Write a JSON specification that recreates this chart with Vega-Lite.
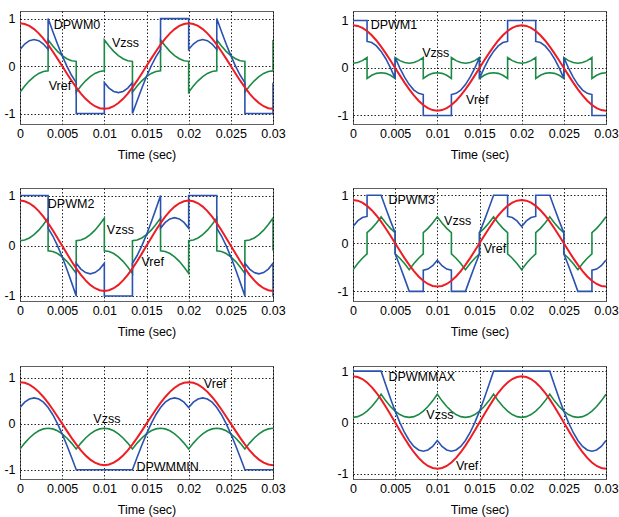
{
"$schema": "https://vega.github.io/schema/vega-lite/v6.json",
"background": "white",
"padding": {"left": 3, "top": 10, "right": 0, "bottom": 0},
"spacing": 25,
"config": {
  "view": {"stroke": "#606060", "strokeWidth": 1},
  "axis": {"grid": true, "gridColor": "#000", "gridDash": [1.5, 2], "gridOpacity": 0.85, "gridWidth": 1, "domain": false, "ticks": false,
    "labelFont": "Liberation Sans", "labelFontSize": 12.5, "labelColor": "#000",
    "titleFont": "Liberation Sans", "titleFontSize": 12.5, "titleFontWeight": "normal", "titleColor": "#000"},
  "axisX": {"labelPadding": 3, "titlePadding": 9, "labelFlush": false, "labelOverlap": false},
  "axisY": {"labelPadding": 5, "labelExpr": "replace(datum.label, '\u2212', '-')"},
  "text": {"font": "Liberation Sans", "fontSize": 12.5, "color": "#000", "align": "left", "baseline": "middle"}
},
"datasets": {
"ref": [
{"t":0,"value":0.9},{"t":0.000556,"value":0.8863},{"t":0.001111,"value":0.8457},{"t":0.001667,"value":0.7794},{"t":0.002222,"value":0.6894},{"t":0.002778,"value":0.5785},{"t":0.003333,"value":0.45},{"t":0.003889,"value":0.3078},{"t":0.004444,"value":0.1563},{"t":0.005,"value":0},{"t":0.005556,"value":-0.1563},{"t":0.006111,"value":-0.3078},{"t":0.006667,"value":-0.45},{"t":0.007222,"value":-0.5785},{"t":0.007778,"value":-0.6894},{"t":0.008333,"value":-0.7794},{"t":0.008889,"value":-0.8457},{"t":0.009444,"value":-0.8863},{"t":0.01,"value":-0.9},{"t":0.010556,"value":-0.8863},{"t":0.011111,"value":-0.8457},{"t":0.011667,"value":-0.7794},{"t":0.012222,"value":-0.6894},{"t":0.012778,"value":-0.5785},{"t":0.013333,"value":-0.45},{"t":0.013889,"value":-0.3078},{"t":0.014444,"value":-0.1563},{"t":0.015,"value":0},{"t":0.015556,"value":0.1563},{"t":0.016111,"value":0.3078},{"t":0.016667,"value":0.45},{"t":0.017222,"value":0.5785},{"t":0.017778,"value":0.6894},{"t":0.018333,"value":0.7794},{"t":0.018889,"value":0.8457},{"t":0.019444,"value":0.8863},{"t":0.02,"value":0.9},{"t":0.020556,"value":0.8863},{"t":0.021111,"value":0.8457},{"t":0.021667,"value":0.7794},{"t":0.022222,"value":0.6894},{"t":0.022778,"value":0.5785},{"t":0.023333,"value":0.45},{"t":0.023889,"value":0.3078},{"t":0.024444,"value":0.1563},{"t":0.025,"value":0},{"t":0.025556,"value":-0.1563},{"t":0.026111,"value":-0.3078},{"t":0.026667,"value":-0.45},{"t":0.027222,"value":-0.5785},{"t":0.027778,"value":-0.6894},{"t":0.028333,"value":-0.7794},{"t":0.028889,"value":-0.8457},{"t":0.029444,"value":-0.8863},{"t":0.03,"value":-0.9}
],
"lab": [
{"p":0,"t":0.0040,"value":0.86,"s":"DPWM0"},{"p":0,"t":0.0109,"value":0.49,"s":"Vzss"},{"p":0,"t":0.0034,"value":-0.41,"s":"Vref"},
{"p":1,"t":0.0021,"value":0.91,"s":"DPWM1"},{"p":1,"t":0.0082,"value":0.32,"s":"Vzss"},{"p":1,"t":0.0134,"value":-0.67,"s":"Vref"},
{"p":2,"t":0.0033,"value":0.84,"s":"DPWM2"},{"p":2,"t":0.0103,"value":0.31,"s":"Vzss"},{"p":2,"t":0.0144,"value":-0.32,"s":"Vref"},
{"p":3,"t":0.0042,"value":0.91,"s":"DPWM3"},{"p":3,"t":0.0108,"value":0.47,"s":"Vzss"},{"p":3,"t":0.0155,"value":-0.11,"s":"Vref"},
{"p":4,"t":0.0218,"value":0.85,"s":"Vref"},{"p":4,"t":0.0087,"value":0.11,"s":"Vzss"},{"p":4,"t":0.0138,"value":-0.94,"s":"DPWMMIN"},
{"p":5,"t":0.0042,"value":0.89,"s":"DPWMMAX"},{"p":5,"t":0.0087,"value":0.15,"s":"Vzss"},{"p":5,"t":0.0122,"value":-0.85,"s":"Vref"}
],
"pw": [
{"p":0,"t":0,"z":-0.55,"y":0.35},
{"p":0,"t":0.000556,"z":-0.4215,"y":0.4648},
{"p":0,"t":0.001111,"z":-0.3106,"y":0.5351},
{"p":0,"t":0.001667,"z":-0.2206,"y":0.5588},
{"p":0,"t":0.002222,"z":-0.1543,"y":0.5351},
{"p":0,"t":0.002778,"z":-0.1137,"y":0.4648},
{"p":0,"t":0.003333,"z":-0.1,"y":0.35},
{"p":0,"t":0.003333,"z":0.55,"y":1},
{"p":0,"t":0.003889,"z":0.4215,"y":0.7293},
{"p":0,"t":0.004444,"z":0.3106,"y":0.4669},
{"p":0,"t":0.005,"z":0.2206,"y":0.2206},
{"p":0,"t":0.005556,"z":0.1543,"y":-0.002},
{"p":0,"t":0.006111,"z":0.1137,"y":-0.1941},
{"p":0,"t":0.006667,"z":0.1,"y":-0.35},
{"p":0,"t":0.006667,"z":-0.55,"y":-1},
{"p":0,"t":0.007222,"z":-0.4215,"y":-1},
{"p":0,"t":0.007778,"z":-0.3106,"y":-1},
{"p":0,"t":0.008333,"z":-0.2206,"y":-1},
{"p":0,"t":0.008889,"z":-0.1543,"y":-1},
{"p":0,"t":0.009444,"z":-0.1137,"y":-1},
{"p":0,"t":0.01,"z":-0.1,"y":-1},
{"p":0,"t":0.01,"z":0.55,"y":-0.35},
{"p":0,"t":0.010556,"z":0.4215,"y":-0.4648},
{"p":0,"t":0.011111,"z":0.3106,"y":-0.5351},
{"p":0,"t":0.011667,"z":0.2206,"y":-0.5588},
{"p":0,"t":0.012222,"z":0.1543,"y":-0.5351},
{"p":0,"t":0.012778,"z":0.1137,"y":-0.4648},
{"p":0,"t":0.013333,"z":0.1,"y":-0.35},
{"p":0,"t":0.013333,"z":-0.55,"y":-1},
{"p":0,"t":0.013889,"z":-0.4215,"y":-0.7293},
{"p":0,"t":0.014444,"z":-0.3106,"y":-0.4669},
{"p":0,"t":0.015,"z":-0.2206,"y":-0.2206},
{"p":0,"t":0.015556,"z":-0.1543,"y":0.002},
{"p":0,"t":0.016111,"z":-0.1137,"y":0.1941},
{"p":0,"t":0.016667,"z":-0.1,"y":0.35},
{"p":0,"t":0.016667,"z":0.55,"y":1},
{"p":0,"t":0.017222,"z":0.4215,"y":1},
{"p":0,"t":0.017778,"z":0.3106,"y":1},
{"p":0,"t":0.018333,"z":0.2206,"y":1},
{"p":0,"t":0.018889,"z":0.1543,"y":1},
{"p":0,"t":0.019444,"z":0.1137,"y":1},
{"p":0,"t":0.02,"z":0.1,"y":1},
{"p":0,"t":0.02,"z":-0.55,"y":0.35},
{"p":0,"t":0.020556,"z":-0.4215,"y":0.4648},
{"p":0,"t":0.021111,"z":-0.3106,"y":0.5351},
{"p":0,"t":0.021667,"z":-0.2206,"y":0.5588},
{"p":0,"t":0.022222,"z":-0.1543,"y":0.5351},
{"p":0,"t":0.022778,"z":-0.1137,"y":0.4648},
{"p":0,"t":0.023333,"z":-0.1,"y":0.35},
{"p":0,"t":0.023333,"z":0.55,"y":1},
{"p":0,"t":0.023889,"z":0.4215,"y":0.7293},
{"p":0,"t":0.024444,"z":0.3106,"y":0.4669},
{"p":0,"t":0.025,"z":0.2206,"y":0.2206},
{"p":0,"t":0.025556,"z":0.1543,"y":-0.002},
{"p":0,"t":0.026111,"z":0.1137,"y":-0.1941},
{"p":0,"t":0.026667,"z":0.1,"y":-0.35},
{"p":0,"t":0.026667,"z":-0.55,"y":-1},
{"p":0,"t":0.027222,"z":-0.4215,"y":-1},
{"p":0,"t":0.027778,"z":-0.3106,"y":-1},
{"p":0,"t":0.028333,"z":-0.2206,"y":-1},
{"p":0,"t":0.028889,"z":-0.1543,"y":-1},
{"p":0,"t":0.029444,"z":-0.1137,"y":-1},
{"p":0,"t":0.03,"z":-0.1,"y":-1},
{"p":0,"t":0.03,"z":0.55,"y":-0.35},
{"p":1,"t":0,"z":0.1,"y":1},
{"p":1,"t":0.000556,"z":0.1137,"y":1},
{"p":1,"t":0.001111,"z":0.1543,"y":1},
{"p":1,"t":0.001667,"z":0.2206,"y":1},
{"p":1,"t":0.001667,"z":-0.2206,"y":0.5588},
{"p":1,"t":0.002222,"z":-0.1543,"y":0.5351},
{"p":1,"t":0.002778,"z":-0.1137,"y":0.4648},
{"p":1,"t":0.003333,"z":-0.1,"y":0.35},
{"p":1,"t":0.003889,"z":-0.1137,"y":0.1941},
{"p":1,"t":0.004444,"z":-0.1543,"y":0.002},
{"p":1,"t":0.005,"z":-0.2206,"y":-0.2206},
{"p":1,"t":0.005,"z":0.2206,"y":0.2206},
{"p":1,"t":0.005556,"z":0.1543,"y":-0.002},
{"p":1,"t":0.006111,"z":0.1137,"y":-0.1941},
{"p":1,"t":0.006667,"z":0.1,"y":-0.35},
{"p":1,"t":0.007222,"z":0.1137,"y":-0.4648},
{"p":1,"t":0.007778,"z":0.1543,"y":-0.5351},
{"p":1,"t":0.008333,"z":0.2206,"y":-0.5588},
{"p":1,"t":0.008333,"z":-0.2206,"y":-1},
{"p":1,"t":0.008889,"z":-0.1543,"y":-1},
{"p":1,"t":0.009444,"z":-0.1137,"y":-1},
{"p":1,"t":0.01,"z":-0.1,"y":-1},
{"p":1,"t":0.010556,"z":-0.1137,"y":-1},
{"p":1,"t":0.011111,"z":-0.1543,"y":-1},
{"p":1,"t":0.011667,"z":-0.2206,"y":-1},
{"p":1,"t":0.011667,"z":0.2206,"y":-0.5588},
{"p":1,"t":0.012222,"z":0.1543,"y":-0.5351},
{"p":1,"t":0.012778,"z":0.1137,"y":-0.4648},
{"p":1,"t":0.013333,"z":0.1,"y":-0.35},
{"p":1,"t":0.013889,"z":0.1137,"y":-0.1941},
{"p":1,"t":0.014444,"z":0.1543,"y":-0.002},
{"p":1,"t":0.015,"z":0.2206,"y":0.2206},
{"p":1,"t":0.015,"z":-0.2206,"y":-0.2206},
{"p":1,"t":0.015556,"z":-0.1543,"y":0.002},
{"p":1,"t":0.016111,"z":-0.1137,"y":0.1941},
{"p":1,"t":0.016667,"z":-0.1,"y":0.35},
{"p":1,"t":0.017222,"z":-0.1137,"y":0.4648},
{"p":1,"t":0.017778,"z":-0.1543,"y":0.5351},
{"p":1,"t":0.018333,"z":-0.2206,"y":0.5588},
{"p":1,"t":0.018333,"z":0.2206,"y":1},
{"p":1,"t":0.018889,"z":0.1543,"y":1},
{"p":1,"t":0.019444,"z":0.1137,"y":1},
{"p":1,"t":0.02,"z":0.1,"y":1},
{"p":1,"t":0.020556,"z":0.1137,"y":1},
{"p":1,"t":0.021111,"z":0.1543,"y":1},
{"p":1,"t":0.021667,"z":0.2206,"y":1},
{"p":1,"t":0.021667,"z":-0.2206,"y":0.5588},
{"p":1,"t":0.022222,"z":-0.1543,"y":0.5351},
{"p":1,"t":0.022778,"z":-0.1137,"y":0.4648},
{"p":1,"t":0.023333,"z":-0.1,"y":0.35},
{"p":1,"t":0.023889,"z":-0.1137,"y":0.1941},
{"p":1,"t":0.024444,"z":-0.1543,"y":0.002},
{"p":1,"t":0.025,"z":-0.2206,"y":-0.2206},
{"p":1,"t":0.025,"z":0.2206,"y":0.2206},
{"p":1,"t":0.025556,"z":0.1543,"y":-0.002},
{"p":1,"t":0.026111,"z":0.1137,"y":-0.1941},
{"p":1,"t":0.026667,"z":0.1,"y":-0.35},
{"p":1,"t":0.027222,"z":0.1137,"y":-0.4648},
{"p":1,"t":0.027778,"z":0.1543,"y":-0.5351},
{"p":1,"t":0.028333,"z":0.2206,"y":-0.5588},
{"p":1,"t":0.028333,"z":-0.2206,"y":-1},
{"p":1,"t":0.028889,"z":-0.1543,"y":-1},
{"p":1,"t":0.029444,"z":-0.1137,"y":-1},
{"p":1,"t":0.03,"z":-0.1,"y":-1},
{"p":2,"t":0,"z":0.1,"y":1},
{"p":2,"t":0.000556,"z":0.1137,"y":1},
{"p":2,"t":0.001111,"z":0.1543,"y":1},
{"p":2,"t":0.001667,"z":0.2206,"y":1},
{"p":2,"t":0.002222,"z":0.3106,"y":1},
{"p":2,"t":0.002778,"z":0.4215,"y":1},
{"p":2,"t":0.003333,"z":0.55,"y":1},
{"p":2,"t":0.003333,"z":-0.1,"y":0.35},
{"p":2,"t":0.003889,"z":-0.1137,"y":0.1941},
{"p":2,"t":0.004444,"z":-0.1543,"y":0.002},
{"p":2,"t":0.005,"z":-0.2206,"y":-0.2206},
{"p":2,"t":0.005556,"z":-0.3106,"y":-0.4669},
{"p":2,"t":0.006111,"z":-0.4215,"y":-0.7293},
{"p":2,"t":0.006667,"z":-0.55,"y":-1},
{"p":2,"t":0.006667,"z":0.1,"y":-0.35},
{"p":2,"t":0.007222,"z":0.1137,"y":-0.4648},
{"p":2,"t":0.007778,"z":0.1543,"y":-0.5351},
{"p":2,"t":0.008333,"z":0.2206,"y":-0.5588},
{"p":2,"t":0.008889,"z":0.3106,"y":-0.5351},
{"p":2,"t":0.009444,"z":0.4215,"y":-0.4648},
{"p":2,"t":0.01,"z":0.55,"y":-0.35},
{"p":2,"t":0.01,"z":-0.1,"y":-1},
{"p":2,"t":0.010556,"z":-0.1137,"y":-1},
{"p":2,"t":0.011111,"z":-0.1543,"y":-1},
{"p":2,"t":0.011667,"z":-0.2206,"y":-1},
{"p":2,"t":0.012222,"z":-0.3106,"y":-1},
{"p":2,"t":0.012778,"z":-0.4215,"y":-1},
{"p":2,"t":0.013333,"z":-0.55,"y":-1},
{"p":2,"t":0.013333,"z":0.1,"y":-0.35},
{"p":2,"t":0.013889,"z":0.1137,"y":-0.1941},
{"p":2,"t":0.014444,"z":0.1543,"y":-0.002},
{"p":2,"t":0.015,"z":0.2206,"y":0.2206},
{"p":2,"t":0.015556,"z":0.3106,"y":0.4669},
{"p":2,"t":0.016111,"z":0.4215,"y":0.7293},
{"p":2,"t":0.016667,"z":0.55,"y":1},
{"p":2,"t":0.016667,"z":-0.1,"y":0.35},
{"p":2,"t":0.017222,"z":-0.1137,"y":0.4648},
{"p":2,"t":0.017778,"z":-0.1543,"y":0.5351},
{"p":2,"t":0.018333,"z":-0.2206,"y":0.5588},
{"p":2,"t":0.018889,"z":-0.3106,"y":0.5351},
{"p":2,"t":0.019444,"z":-0.4215,"y":0.4648},
{"p":2,"t":0.02,"z":-0.55,"y":0.35},
{"p":2,"t":0.02,"z":0.1,"y":1},
{"p":2,"t":0.020556,"z":0.1137,"y":1},
{"p":2,"t":0.021111,"z":0.1543,"y":1},
{"p":2,"t":0.021667,"z":0.2206,"y":1},
{"p":2,"t":0.022222,"z":0.3106,"y":1},
{"p":2,"t":0.022778,"z":0.4215,"y":1},
{"p":2,"t":0.023333,"z":0.55,"y":1},
{"p":2,"t":0.023333,"z":-0.1,"y":0.35},
{"p":2,"t":0.023889,"z":-0.1137,"y":0.1941},
{"p":2,"t":0.024444,"z":-0.1543,"y":0.002},
{"p":2,"t":0.025,"z":-0.2206,"y":-0.2206},
{"p":2,"t":0.025556,"z":-0.3106,"y":-0.4669},
{"p":2,"t":0.026111,"z":-0.4215,"y":-0.7293},
{"p":2,"t":0.026667,"z":-0.55,"y":-1},
{"p":2,"t":0.026667,"z":0.1,"y":-0.35},
{"p":2,"t":0.027222,"z":0.1137,"y":-0.4648},
{"p":2,"t":0.027778,"z":0.1543,"y":-0.5351},
{"p":2,"t":0.028333,"z":0.2206,"y":-0.5588},
{"p":2,"t":0.028889,"z":0.3106,"y":-0.5351},
{"p":2,"t":0.029444,"z":0.4215,"y":-0.4648},
{"p":2,"t":0.03,"z":0.55,"y":-0.35},
{"p":2,"t":0.03,"z":-0.1,"y":-1},
{"p":3,"t":0,"z":-0.55,"y":0.35},
{"p":3,"t":0.000556,"z":-0.4215,"y":0.4648},
{"p":3,"t":0.001111,"z":-0.3106,"y":0.5351},
{"p":3,"t":0.001667,"z":-0.2206,"y":0.5588},
{"p":3,"t":0.001667,"z":0.2206,"y":1},
{"p":3,"t":0.002222,"z":0.3106,"y":1},
{"p":3,"t":0.002778,"z":0.4215,"y":1},
{"p":3,"t":0.003333,"z":0.55,"y":1},
{"p":3,"t":0.003889,"z":0.4215,"y":0.7293},
{"p":3,"t":0.004444,"z":0.3106,"y":0.4669},
{"p":3,"t":0.005,"z":0.2206,"y":0.2206},
{"p":3,"t":0.005,"z":-0.2206,"y":-0.2206},
{"p":3,"t":0.005556,"z":-0.3106,"y":-0.4669},
{"p":3,"t":0.006111,"z":-0.4215,"y":-0.7293},
{"p":3,"t":0.006667,"z":-0.55,"y":-1},
{"p":3,"t":0.007222,"z":-0.4215,"y":-1},
{"p":3,"t":0.007778,"z":-0.3106,"y":-1},
{"p":3,"t":0.008333,"z":-0.2206,"y":-1},
{"p":3,"t":0.008333,"z":0.2206,"y":-0.5588},
{"p":3,"t":0.008889,"z":0.3106,"y":-0.5351},
{"p":3,"t":0.009444,"z":0.4215,"y":-0.4648},
{"p":3,"t":0.01,"z":0.55,"y":-0.35},
{"p":3,"t":0.010556,"z":0.4215,"y":-0.4648},
{"p":3,"t":0.011111,"z":0.3106,"y":-0.5351},
{"p":3,"t":0.011667,"z":0.2206,"y":-0.5588},
{"p":3,"t":0.011667,"z":-0.2206,"y":-1},
{"p":3,"t":0.012222,"z":-0.3106,"y":-1},
{"p":3,"t":0.012778,"z":-0.4215,"y":-1},
{"p":3,"t":0.013333,"z":-0.55,"y":-1},
{"p":3,"t":0.013889,"z":-0.4215,"y":-0.7293},
{"p":3,"t":0.014444,"z":-0.3106,"y":-0.4669},
{"p":3,"t":0.015,"z":-0.2206,"y":-0.2206},
{"p":3,"t":0.015,"z":0.2206,"y":0.2206},
{"p":3,"t":0.015556,"z":0.3106,"y":0.4669},
{"p":3,"t":0.016111,"z":0.4215,"y":0.7293},
{"p":3,"t":0.016667,"z":0.55,"y":1},
{"p":3,"t":0.017222,"z":0.4215,"y":1},
{"p":3,"t":0.017778,"z":0.3106,"y":1},
{"p":3,"t":0.018333,"z":0.2206,"y":1},
{"p":3,"t":0.018333,"z":-0.2206,"y":0.5588},
{"p":3,"t":0.018889,"z":-0.3106,"y":0.5351},
{"p":3,"t":0.019444,"z":-0.4215,"y":0.4648},
{"p":3,"t":0.02,"z":-0.55,"y":0.35},
{"p":3,"t":0.020556,"z":-0.4215,"y":0.4648},
{"p":3,"t":0.021111,"z":-0.3106,"y":0.5351},
{"p":3,"t":0.021667,"z":-0.2206,"y":0.5588},
{"p":3,"t":0.021667,"z":0.2206,"y":1},
{"p":3,"t":0.022222,"z":0.3106,"y":1},
{"p":3,"t":0.022778,"z":0.4215,"y":1},
{"p":3,"t":0.023333,"z":0.55,"y":1},
{"p":3,"t":0.023889,"z":0.4215,"y":0.7293},
{"p":3,"t":0.024444,"z":0.3106,"y":0.4669},
{"p":3,"t":0.025,"z":0.2206,"y":0.2206},
{"p":3,"t":0.025,"z":-0.2206,"y":-0.2206},
{"p":3,"t":0.025556,"z":-0.3106,"y":-0.4669},
{"p":3,"t":0.026111,"z":-0.4215,"y":-0.7293},
{"p":3,"t":0.026667,"z":-0.55,"y":-1},
{"p":3,"t":0.027222,"z":-0.4215,"y":-1},
{"p":3,"t":0.027778,"z":-0.3106,"y":-1},
{"p":3,"t":0.028333,"z":-0.2206,"y":-1},
{"p":3,"t":0.028333,"z":0.2206,"y":-0.5588},
{"p":3,"t":0.028889,"z":0.3106,"y":-0.5351},
{"p":3,"t":0.029444,"z":0.4215,"y":-0.4648},
{"p":3,"t":0.03,"z":0.55,"y":-0.35},
{"p":4,"t":0,"z":-0.55,"y":0.35},
{"p":4,"t":0.000556,"z":-0.4215,"y":0.4648},
{"p":4,"t":0.001111,"z":-0.3106,"y":0.5351},
{"p":4,"t":0.001667,"z":-0.2206,"y":0.5588},
{"p":4,"t":0.002222,"z":-0.1543,"y":0.5351},
{"p":4,"t":0.002778,"z":-0.1137,"y":0.4648},
{"p":4,"t":0.003333,"z":-0.1,"y":0.35},
{"p":4,"t":0.003889,"z":-0.1137,"y":0.1941},
{"p":4,"t":0.004444,"z":-0.1543,"y":0.002},
{"p":4,"t":0.005,"z":-0.2206,"y":-0.2206},
{"p":4,"t":0.005556,"z":-0.3106,"y":-0.4669},
{"p":4,"t":0.006111,"z":-0.4215,"y":-0.7293},
{"p":4,"t":0.006667,"z":-0.55,"y":-1},
{"p":4,"t":0.007222,"z":-0.4215,"y":-1},
{"p":4,"t":0.007778,"z":-0.3106,"y":-1},
{"p":4,"t":0.008333,"z":-0.2206,"y":-1},
{"p":4,"t":0.008889,"z":-0.1543,"y":-1},
{"p":4,"t":0.009444,"z":-0.1137,"y":-1},
{"p":4,"t":0.01,"z":-0.1,"y":-1},
{"p":4,"t":0.010556,"z":-0.1137,"y":-1},
{"p":4,"t":0.011111,"z":-0.1543,"y":-1},
{"p":4,"t":0.011667,"z":-0.2206,"y":-1},
{"p":4,"t":0.012222,"z":-0.3106,"y":-1},
{"p":4,"t":0.012778,"z":-0.4215,"y":-1},
{"p":4,"t":0.013333,"z":-0.55,"y":-1},
{"p":4,"t":0.013889,"z":-0.4215,"y":-0.7293},
{"p":4,"t":0.014444,"z":-0.3106,"y":-0.4669},
{"p":4,"t":0.015,"z":-0.2206,"y":-0.2206},
{"p":4,"t":0.015556,"z":-0.1543,"y":0.002},
{"p":4,"t":0.016111,"z":-0.1137,"y":0.1941},
{"p":4,"t":0.016667,"z":-0.1,"y":0.35},
{"p":4,"t":0.017222,"z":-0.1137,"y":0.4648},
{"p":4,"t":0.017778,"z":-0.1543,"y":0.5351},
{"p":4,"t":0.018333,"z":-0.2206,"y":0.5588},
{"p":4,"t":0.018889,"z":-0.3106,"y":0.5351},
{"p":4,"t":0.019444,"z":-0.4215,"y":0.4648},
{"p":4,"t":0.02,"z":-0.55,"y":0.35},
{"p":4,"t":0.020556,"z":-0.4215,"y":0.4648},
{"p":4,"t":0.021111,"z":-0.3106,"y":0.5351},
{"p":4,"t":0.021667,"z":-0.2206,"y":0.5588},
{"p":4,"t":0.022222,"z":-0.1543,"y":0.5351},
{"p":4,"t":0.022778,"z":-0.1137,"y":0.4648},
{"p":4,"t":0.023333,"z":-0.1,"y":0.35},
{"p":4,"t":0.023889,"z":-0.1137,"y":0.1941},
{"p":4,"t":0.024444,"z":-0.1543,"y":0.002},
{"p":4,"t":0.025,"z":-0.2206,"y":-0.2206},
{"p":4,"t":0.025556,"z":-0.3106,"y":-0.4669},
{"p":4,"t":0.026111,"z":-0.4215,"y":-0.7293},
{"p":4,"t":0.026667,"z":-0.55,"y":-1},
{"p":4,"t":0.027222,"z":-0.4215,"y":-1},
{"p":4,"t":0.027778,"z":-0.3106,"y":-1},
{"p":4,"t":0.028333,"z":-0.2206,"y":-1},
{"p":4,"t":0.028889,"z":-0.1543,"y":-1},
{"p":4,"t":0.029444,"z":-0.1137,"y":-1},
{"p":4,"t":0.03,"z":-0.1,"y":-1},
{"p":5,"t":0,"z":0.1,"y":1},
{"p":5,"t":0.000556,"z":0.1137,"y":1},
{"p":5,"t":0.001111,"z":0.1543,"y":1},
{"p":5,"t":0.001667,"z":0.2206,"y":1},
{"p":5,"t":0.002222,"z":0.3106,"y":1},
{"p":5,"t":0.002778,"z":0.4215,"y":1},
{"p":5,"t":0.003333,"z":0.55,"y":1},
{"p":5,"t":0.003889,"z":0.4215,"y":0.7293},
{"p":5,"t":0.004444,"z":0.3106,"y":0.4669},
{"p":5,"t":0.005,"z":0.2206,"y":0.2206},
{"p":5,"t":0.005556,"z":0.1543,"y":-0.002},
{"p":5,"t":0.006111,"z":0.1137,"y":-0.1941},
{"p":5,"t":0.006667,"z":0.1,"y":-0.35},
{"p":5,"t":0.007222,"z":0.1137,"y":-0.4648},
{"p":5,"t":0.007778,"z":0.1543,"y":-0.5351},
{"p":5,"t":0.008333,"z":0.2206,"y":-0.5588},
{"p":5,"t":0.008889,"z":0.3106,"y":-0.5351},
{"p":5,"t":0.009444,"z":0.4215,"y":-0.4648},
{"p":5,"t":0.01,"z":0.55,"y":-0.35},
{"p":5,"t":0.010556,"z":0.4215,"y":-0.4648},
{"p":5,"t":0.011111,"z":0.3106,"y":-0.5351},
{"p":5,"t":0.011667,"z":0.2206,"y":-0.5588},
{"p":5,"t":0.012222,"z":0.1543,"y":-0.5351},
{"p":5,"t":0.012778,"z":0.1137,"y":-0.4648},
{"p":5,"t":0.013333,"z":0.1,"y":-0.35},
{"p":5,"t":0.013889,"z":0.1137,"y":-0.1941},
{"p":5,"t":0.014444,"z":0.1543,"y":-0.002},
{"p":5,"t":0.015,"z":0.2206,"y":0.2206},
{"p":5,"t":0.015556,"z":0.3106,"y":0.4669},
{"p":5,"t":0.016111,"z":0.4215,"y":0.7293},
{"p":5,"t":0.016667,"z":0.55,"y":1},
{"p":5,"t":0.017222,"z":0.4215,"y":1},
{"p":5,"t":0.017778,"z":0.3106,"y":1},
{"p":5,"t":0.018333,"z":0.2206,"y":1},
{"p":5,"t":0.018889,"z":0.1543,"y":1},
{"p":5,"t":0.019444,"z":0.1137,"y":1},
{"p":5,"t":0.02,"z":0.1,"y":1},
{"p":5,"t":0.020556,"z":0.1137,"y":1},
{"p":5,"t":0.021111,"z":0.1543,"y":1},
{"p":5,"t":0.021667,"z":0.2206,"y":1},
{"p":5,"t":0.022222,"z":0.3106,"y":1},
{"p":5,"t":0.022778,"z":0.4215,"y":1},
{"p":5,"t":0.023333,"z":0.55,"y":1},
{"p":5,"t":0.023889,"z":0.4215,"y":0.7293},
{"p":5,"t":0.024444,"z":0.3106,"y":0.4669},
{"p":5,"t":0.025,"z":0.2206,"y":0.2206},
{"p":5,"t":0.025556,"z":0.1543,"y":-0.002},
{"p":5,"t":0.026111,"z":0.1137,"y":-0.1941},
{"p":5,"t":0.026667,"z":0.1,"y":-0.35},
{"p":5,"t":0.027222,"z":0.1137,"y":-0.4648},
{"p":5,"t":0.027778,"z":0.1543,"y":-0.5351},
{"p":5,"t":0.028333,"z":0.2206,"y":-0.5588},
{"p":5,"t":0.028889,"z":0.3106,"y":-0.5351},
{"p":5,"t":0.029444,"z":0.4215,"y":-0.4648},
{"p":5,"t":0.03,"z":0.55,"y":-0.35}
]
},
"vconcat": [
{"hconcat": [
 {"width": 253, "height": 113,
  "encoding": {"x": {"field": "t", "type": "quantitative", "scale": {"domain": [0, 0.03], "nice": false, "zero": false}, "axis": {"title": "Time (sec)", "values": [0, 0.005, 0.01, 0.015, 0.02, 0.025, 0.03], "format": "~g"}},
               "y": {"field": "value", "type": "quantitative", "scale": {"domain": [-1.22, 1.16], "nice": false, "zero": false}, "axis": {"title": null, "values": [-1, 0, 1], "format": "~g"}}},
  "layer": [
   {"data": {"name": "pw"}, "transform": [{"filter": "datum.p == 0"}, {"fold": ["z", "y"], "as": ["key", "value"]}], "mark": {"type": "line", "strokeWidth": 1.6, "clip": true}, "encoding": {"color": {"field": "key", "type": "nominal", "scale": {"domain": ["z", "y"], "range": ["#1b8a45", "#2a52b0"]}, "legend": null}, "order": {"value": null}}},
   {"data": {"name": "ref"}, "mark": {"type": "line", "color": "#ee1c24", "strokeWidth": 2, "clip": true}, "encoding": {}},
   {"data": {"name": "lab"}, "transform": [{"filter": "datum.p == 0"}], "mark": {"type": "text"}, "encoding": {"text": {"field": "s"}}}
  ]},
 {"width": 253, "height": 113,
  "encoding": {"x": {"field": "t", "type": "quantitative", "scale": {"domain": [0, 0.03], "nice": false, "zero": false}, "axis": {"title": "Time (sec)", "values": [0, 0.005, 0.01, 0.015, 0.02, 0.025, 0.03], "format": "~g"}},
               "y": {"field": "value", "type": "quantitative", "scale": {"domain": [-1.18, 1.2], "nice": false, "zero": false}, "axis": {"title": null, "values": [-1, 0, 1], "format": "~g"}}},
  "layer": [
   {"data": {"name": "pw"}, "transform": [{"filter": "datum.p == 1"}, {"fold": ["z", "y"], "as": ["key", "value"]}], "mark": {"type": "line", "strokeWidth": 1.6, "clip": true}, "encoding": {"color": {"field": "key", "type": "nominal", "scale": {"domain": ["z", "y"], "range": ["#1b8a45", "#2a52b0"]}, "legend": null}, "order": {"value": null}}},
   {"data": {"name": "ref"}, "mark": {"type": "line", "color": "#ee1c24", "strokeWidth": 2, "clip": true}, "encoding": {}},
   {"data": {"name": "lab"}, "transform": [{"filter": "datum.p == 1"}], "mark": {"type": "text"}, "encoding": {"text": {"field": "s"}}}
  ]}
 ], "spacing": 80, "bounds": "flush"},
{"hconcat": [
 {"width": 253, "height": 113,
  "encoding": {"x": {"field": "t", "type": "quantitative", "scale": {"domain": [0, 0.03], "nice": false, "zero": false}, "axis": {"title": "Time (sec)", "values": [0, 0.005, 0.01, 0.015, 0.02, 0.025, 0.03], "format": "~g"}},
               "y": {"field": "value", "type": "quantitative", "scale": {"domain": [-1.1, 1.15], "nice": false, "zero": false}, "axis": {"title": null, "values": [-1, 0, 1], "format": "~g"}}},
  "layer": [
   {"data": {"name": "pw"}, "transform": [{"filter": "datum.p == 2"}, {"fold": ["z", "y"], "as": ["key", "value"]}], "mark": {"type": "line", "strokeWidth": 1.6, "clip": true}, "encoding": {"color": {"field": "key", "type": "nominal", "scale": {"domain": ["z", "y"], "range": ["#1b8a45", "#2a52b0"]}, "legend": null}, "order": {"value": null}}},
   {"data": {"name": "ref"}, "mark": {"type": "line", "color": "#ee1c24", "strokeWidth": 2, "clip": true}, "encoding": {}},
   {"data": {"name": "lab"}, "transform": [{"filter": "datum.p == 2"}], "mark": {"type": "text"}, "encoding": {"text": {"field": "s"}}}
  ]},
 {"width": 253, "height": 113,
  "encoding": {"x": {"field": "t", "type": "quantitative", "scale": {"domain": [0, 0.03], "nice": false, "zero": false}, "axis": {"title": "Time (sec)", "values": [0, 0.005, 0.01, 0.015, 0.02, 0.025, 0.03], "format": "~g"}},
               "y": {"field": "value", "type": "quantitative", "scale": {"domain": [-1.2, 1.15], "nice": false, "zero": false}, "axis": {"title": null, "values": [-1, 0, 1], "format": "~g"}}},
  "layer": [
   {"data": {"name": "pw"}, "transform": [{"filter": "datum.p == 3"}, {"fold": ["z", "y"], "as": ["key", "value"]}], "mark": {"type": "line", "strokeWidth": 1.6, "clip": true}, "encoding": {"color": {"field": "key", "type": "nominal", "scale": {"domain": ["z", "y"], "range": ["#1b8a45", "#2a52b0"]}, "legend": null}, "order": {"value": null}}},
   {"data": {"name": "ref"}, "mark": {"type": "line", "color": "#ee1c24", "strokeWidth": 2, "clip": true}, "encoding": {}},
   {"data": {"name": "lab"}, "transform": [{"filter": "datum.p == 3"}], "mark": {"type": "text"}, "encoding": {"text": {"field": "s"}}}
  ]}
 ], "spacing": 80, "bounds": "flush"},
{"hconcat": [
 {"width": 253, "height": 113,
  "encoding": {"x": {"field": "t", "type": "quantitative", "scale": {"domain": [0, 0.03], "nice": false, "zero": false}, "axis": {"title": "Time (sec)", "values": [0, 0.005, 0.01, 0.015, 0.02, 0.025, 0.03], "format": "~g"}},
               "y": {"field": "value", "type": "quantitative", "scale": {"domain": [-1.2, 1.25], "nice": false, "zero": false}, "axis": {"title": null, "values": [-1, 0, 1], "format": "~g"}}},
  "layer": [
   {"data": {"name": "pw"}, "transform": [{"filter": "datum.p == 4"}, {"fold": ["z", "y"], "as": ["key", "value"]}], "mark": {"type": "line", "strokeWidth": 1.6, "clip": true}, "encoding": {"color": {"field": "key", "type": "nominal", "scale": {"domain": ["z", "y"], "range": ["#1b8a45", "#2a52b0"]}, "legend": null}, "order": {"value": null}}},
   {"data": {"name": "ref"}, "mark": {"type": "line", "color": "#ee1c24", "strokeWidth": 2, "clip": true}, "encoding": {}},
   {"data": {"name": "lab"}, "transform": [{"filter": "datum.p == 4"}], "mark": {"type": "text"}, "encoding": {"text": {"field": "s"}}}
  ]},
 {"width": 253, "height": 113,
  "encoding": {"x": {"field": "t", "type": "quantitative", "scale": {"domain": [0, 0.03], "nice": false, "zero": false}, "axis": {"title": "Time (sec)", "values": [0, 0.005, 0.01, 0.015, 0.02, 0.025, 0.03], "format": "~g"}},
               "y": {"field": "value", "type": "quantitative", "scale": {"domain": [-1.1, 1.1], "nice": false, "zero": false}, "axis": {"title": null, "values": [-1, 0, 1], "format": "~g"}}},
  "layer": [
   {"data": {"name": "pw"}, "transform": [{"filter": "datum.p == 5"}, {"fold": ["z", "y"], "as": ["key", "value"]}], "mark": {"type": "line", "strokeWidth": 1.6, "clip": true}, "encoding": {"color": {"field": "key", "type": "nominal", "scale": {"domain": ["z", "y"], "range": ["#1b8a45", "#2a52b0"]}, "legend": null}, "order": {"value": null}}},
   {"data": {"name": "ref"}, "mark": {"type": "line", "color": "#ee1c24", "strokeWidth": 2, "clip": true}, "encoding": {}},
   {"data": {"name": "lab"}, "transform": [{"filter": "datum.p == 5"}], "mark": {"type": "text"}, "encoding": {"text": {"field": "s"}}}
  ]}
 ], "spacing": 80, "bounds": "flush"}
]
}
